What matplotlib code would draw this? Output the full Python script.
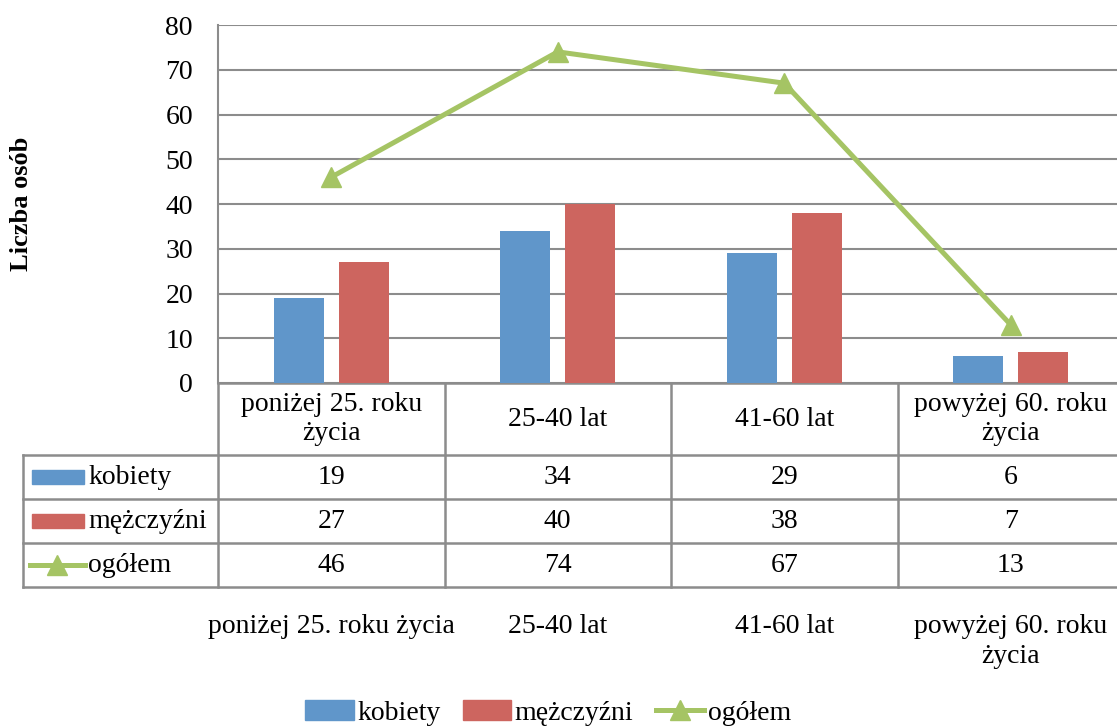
import numpy as np
import matplotlib.pyplot as plt
from matplotlib.patches import Patch, Rectangle
from matplotlib.lines import Line2D
import matplotlib.transforms as mtransforms

plt.rcParams['font.family'] = ['Liberation Serif', 'DejaVu Serif']

categories = ['poniżej 25. roku\nżycia', '25-40 lat', '41-60 lat', 'powyżej 60. roku\nżycia']
tick_labels = ['poniżej 25. roku życia', '25-40 lat', '41-60 lat', 'powyżej 60. roku\nżycia']
series_names = ['kobiety', 'mężczyźni', 'ogółem']
kobiety = [19, 34, 29, 6]
mezczyzni = [27, 40, 38, 7]
ogolem = [46, 74, 67, 13]

c_blue = '#6096ca'
c_red = '#cd655f'
c_green = '#a5c464'
c_grid = '#8c8c8c'
fs = 20

W, H = 1117, 728
fig = plt.figure(figsize=(W / 100, H / 100), dpi=100)
ax = fig.add_axes([218 / W, 1 - 383 / H, 906 / W, 358 / H])

x = np.arange(len(categories))
bw = 0.22
off = 0.143
ax.bar(x - off, kobiety, bw, color=c_blue, zorder=3)
ax.bar(x + off, mezczyzni, bw, color=c_red, zorder=3)
ax.plot(x, ogolem, color=c_green, lw=3.6, marker='^', ms=14, zorder=4)

ax.set_xlim(-0.5, 3.5)
ax.set_ylim(0, 80)
ax.set_yticks(range(0, 81, 10))
ax.yaxis.grid(True, color=c_grid, lw=1.5)
ax.set_axisbelow(True)
for s in ['top', 'right', 'bottom']:
    ax.spines[s].set_visible(False)
ax.spines['left'].set_color(c_grid)
ax.spines['left'].set_linewidth(1.5)
ax.tick_params(axis='y', length=0, pad=18, labelsize=fs)
ax.set_xticks(x)
ax.set_xticklabels(tick_labels, fontsize=fs, linespacing=1.3)
ax.tick_params(axis='x', length=0, pad=166)
ax.set_ylabel('Liczba osób', fontsize=19, fontweight='bold', va='center')
ax.yaxis.set_label_coords(-196 / 906, 0.5)

# data table under the plot: x in data units, y in axes units
tr = mtransforms.blended_transform_factory(ax.transData, ax.transAxes)
px = 1 / 226.6  # one pixel in data units along x
y_head = -(455 - 383) / 358
rows_y = [-(499.3 - 383) / 358, -(543.3 - 383) / 358, -(587.3 - 383) / 358]
x_left = -0.5 - 195 * px
x_right = 3.6
line_kw = dict(color=c_grid, lw=1.8, transform=tr, clip_on=False)

ax.plot([-0.5, x_right], [0, 0], **line_kw)
for yy in [y_head] + rows_y:
    ax.plot([x_left, x_right], [yy, yy], **line_kw)
for xx in [-0.5, 0.5, 1.5, 2.5, 3.5]:
    ax.plot([xx, xx], [0, rows_y[-1]], **line_kw)
ax.plot([x_left, x_left], [y_head, rows_y[-1]], **line_kw)

for i, lab in enumerate(categories):
    ax.text(i, y_head / 2, lab, transform=tr, ha='center', va='center',
            fontsize=fs, linespacing=1.25, clip_on=False)

row_tops = [y_head] + rows_y[:-1]
for r, (name, vals) in enumerate(zip(series_names, [kobiety, mezczyzni, ogolem])):
    yc = (row_tops[r] + rows_y[r]) / 2
    for i, v in enumerate(vals):
        ax.text(i, yc, str(v), transform=tr, ha='center', va='center',
                fontsize=fs, clip_on=False)
    kx0 = -0.5 - 186 * px
    kx1 = -0.5 - 134 * px
    if r < 2:
        ax.add_patch(Rectangle((kx0, yc - 7 / 358), kx1 - kx0, 14 / 358,
                               color=[c_blue, c_red][r], transform=tr, clip_on=False))
    else:
        ax.plot([-0.5 - 188 * px, -0.5 - 133 * px], [yc, yc], color=c_green, lw=3.6,
                transform=tr, clip_on=False)
        ax.plot([-0.5 - 161 * px], [yc], marker='^', ms=14, color=c_green,
                transform=tr, clip_on=False)
    ax.text(-0.5 - 130 * px, yc, name, transform=tr, ha='left', va='center',
            fontsize=fs, clip_on=False)

handles = [Patch(color=c_blue), Patch(color=c_red),
           Line2D([], [], color=c_green, lw=3.6, marker='^', ms=14)]
fig.legend(handles, series_names, loc='center', bbox_to_anchor=(548 / W, 1 - 713 / H),
           ncol=3, frameon=False, fontsize=fs, handlelength=1.75, handletextpad=0.12,
           columnspacing=0.8, borderpad=0)

fig.savefig('out.png', dpi=100)
